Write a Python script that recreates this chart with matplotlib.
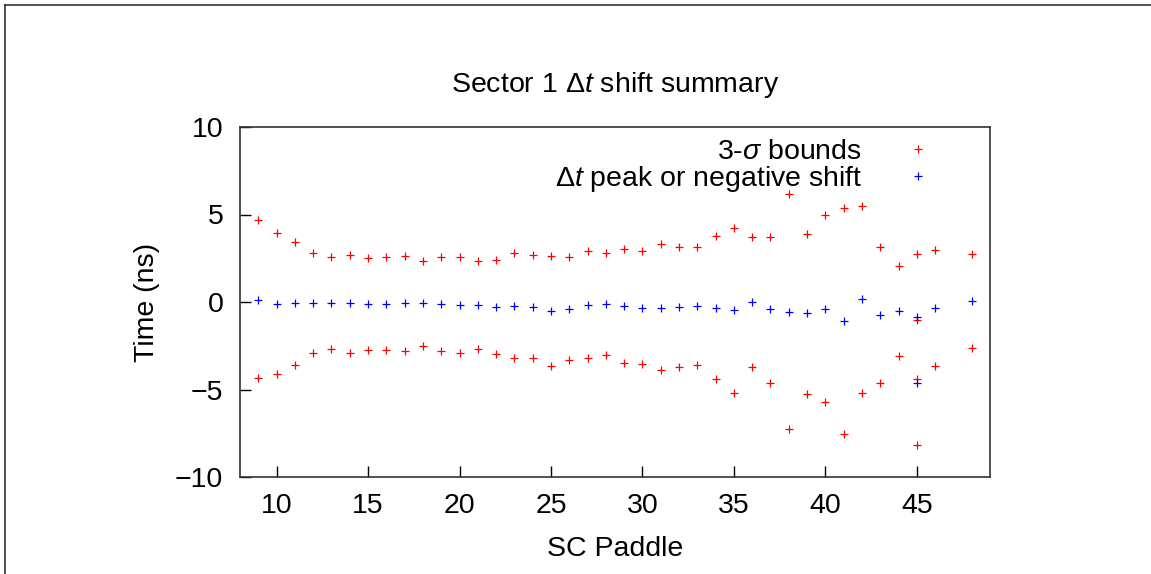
import matplotlib
matplotlib.use("Agg")
from matplotlib import pyplot as plt
from matplotlib.lines import Line2D

plt.rcParams['font.family'] = ['Liberation Sans', 'DejaVu Sans']
plt.rcParams['mathtext.fontset'] = 'custom'
plt.rcParams['mathtext.rm'] = 'Liberation Sans'
plt.rcParams['mathtext.it'] = 'Liberation Sans:italic'
plt.rcParams['mathtext.sf'] = 'Liberation Sans'

# paddle numbers (45 appears twice in the data)
paddle = [9, 10, 11, 12, 13, 14, 15, 16, 17, 18, 19, 20, 21, 22, 23, 24, 25, 26, 27, 28,
          29, 30, 31, 32, 33, 34, 35, 36, 37, 38, 39, 40, 41, 42, 43, 44, 45, 45, 46, 48]
upper = [4.67, 3.96, 3.43, 2.80, 2.57, 2.69, 2.51, 2.55, 2.61, 2.36, 2.55, 2.55, 2.36, 2.42,
         2.82, 2.67, 2.61, 2.55, 2.91, 2.80, 3.03, 2.91, 3.30, 3.14, 3.12, 3.75, 4.22, 3.71,
         3.74, 6.15, 3.91, 4.97, 5.39, 5.49, 3.14, 2.04, 2.72, -1.05, 2.99, 2.72]
peak = [0.13, -0.09, -0.06, -0.04, -0.06, -0.08, -0.09, -0.09, -0.08, -0.04, -0.13, -0.17,
        -0.17, -0.28, -0.21, -0.28, -0.51, -0.40, -0.15, -0.09, -0.23, -0.34, -0.32, -0.30,
        -0.25, -0.34, -0.48, 0.0, -0.42, -0.55, -0.65, -0.38, -1.08, 0.15, -0.74, -0.53,
        -0.86, -4.61, -0.34, 0.04]
lower = [-4.34, -4.13, -3.58, -2.89, -2.68, -2.89, -2.72, -2.74, -2.78, -2.49, -2.78, -2.91,
         -2.70, -2.95, -3.20, -3.20, -3.67, -3.29, -3.20, -3.01, -3.48, -3.56, -3.87, -3.71,
         -3.58, -4.38, -5.20, -3.71, -4.61, -7.27, -5.24, -5.71, -7.56, -5.22, -4.65, -3.06,
         -4.42, -8.19, -3.66, -2.65]

fs = 20.5
fig = plt.figure(figsize=(11.51, 5.74), dpi=100)
ax = fig.add_axes([240/1151, 97/574, 750/1151, 350/574])

mk = dict(marker='+', linestyle='none', markersize=6.2, markeredgewidth=0.9)
ax.plot(paddle + paddle, upper + lower, color='#ff0000', label=r'3-$\sigma$ bounds', **mk)
ax.plot(paddle, peak, color='#0000ff', label=r'$\Delta t$ peak or negative shift', **mk)

ax.set_xlim(8, 49)
ax.set_ylim(-10, 10)
ax.set_xticks([10, 15, 20, 25, 30, 35, 40, 45])
ax.set_yticks([-10, -5, 0, 5, 10])
ax.tick_params(direction='in', length=8, width=1, labelsize=fs, top=False, right=False)
ax.tick_params(axis='x', pad=11.5)
ax.tick_params(axis='y', pad=12)
for s in ax.spines.values():
    s.set_linewidth(1.2)
    s.set_color('#333333')

ax.set_xlabel('SC Paddle', fontsize=fs, labelpad=12)
ax.set_ylabel('Time (ns)', fontsize=fs, labelpad=11)
fig.text(615/1151, 1 - 85/574, r'Sector 1 $\Delta t$ shift summary', fontsize=fs,
         ha='center', va='center')

ax.legend(loc='upper right', bbox_to_anchor=(0.942, 0.965), frameon=False,
          markerfirst=False, fontsize=fs, handlelength=2, handletextpad=0.96,
          labelspacing=-0.05, borderaxespad=0, borderpad=0)

# outer frame lines (top and left)
fig.add_artist(Line2D([5/1151, 5/1151], [0, 1 - 5/574], color='#333333', lw=1.2))
fig.add_artist(Line2D([5/1151, 1], [1 - 5/574, 1 - 5/574], color='#333333', lw=1.2))

fig.savefig('out.png', dpi=100)
